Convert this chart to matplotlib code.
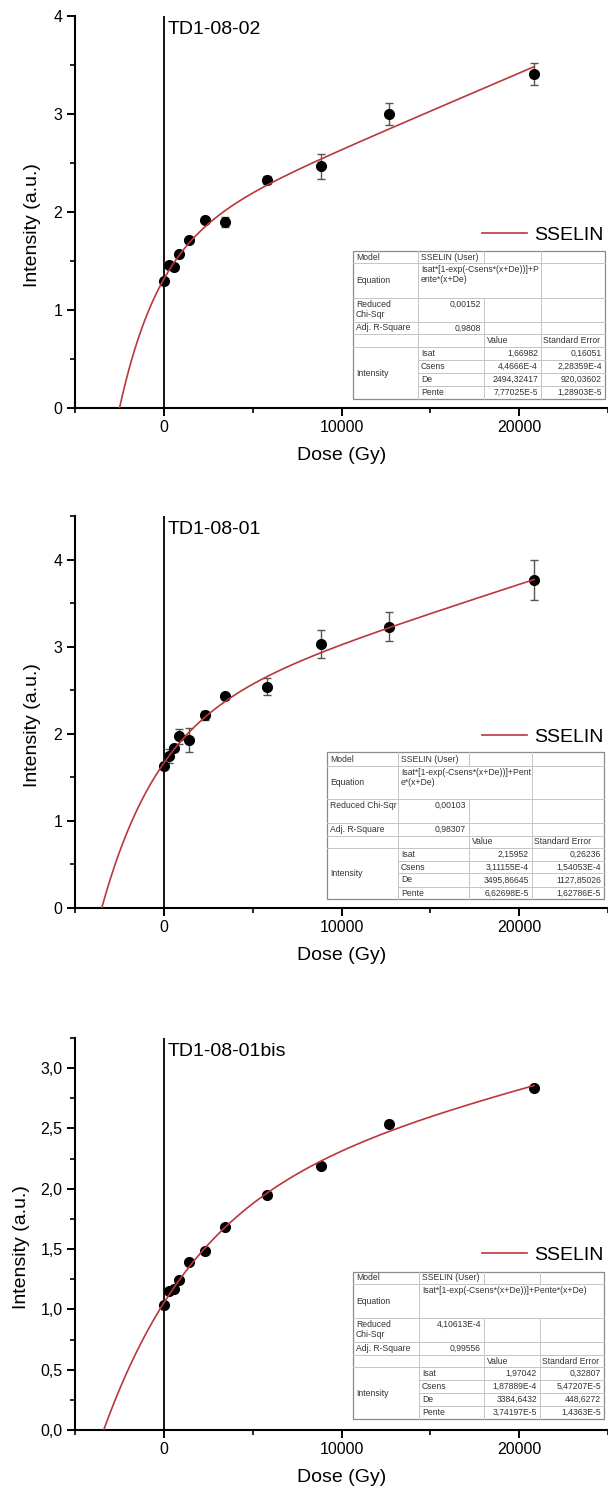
import numpy as np
import matplotlib.pyplot as plt
from matplotlib.ticker import MultipleLocator, FuncFormatter

plt.rcParams['font.family'] = ['Liberation Sans', 'DejaVu Sans']

W, H = 608, 1491

# doses (Gy), same irradiation steps for the three samples
dose = [0, 300, 560, 880, 1420, 2330, 3440, 5790, 8830, 12680, 20840]

# TD1-08-02
int_02 = [1.30, 1.455, 1.44, 1.57, 1.71, 1.915, 1.90, 2.33, 2.465, 3.00, 3.41]
err_02 = [0.02, 0.02, 0.02, 0.02, 0.02, 0.02, 0.05, 0.04, 0.13, 0.11, 0.11]
# TD1-08-01
int_01 = [1.635, 1.74, 1.835, 1.97, 1.93, 2.21, 2.43, 2.54, 3.035, 3.23, 3.765]
err_01 = [0.02, 0.08, 0.03, 0.09, 0.14, 0.05, 0.03, 0.10, 0.16, 0.17, 0.23]
# TD1-08-01bis (no visible error bars)
int_01b = [1.035, 1.15, 1.17, 1.24, 1.39, 1.485, 1.68, 1.946, 2.19, 2.535, 2.835]

# fit tables (Origin output, comma decimals)
param_names = ['Isat', 'Csens', 'De', 'Pente']
val_02 = ['1,66982', '4,4666E-4', '2494,32417', '7,77025E-5']
se_02 = ['0,16051', '2,28359E-4', '920,03602', '1,28903E-5']
val_01 = ['2,15952', '3,11155E-4', '3495,86645', '6,62698E-5']
se_01 = ['0,26236', '1,54053E-4', '1127,85026', '1,62786E-5']
val_01b = ['1,97042', '1,87889E-4', '3384,6432', '3,74197E-5']
se_01b = ['0,32807', '5,47207E-5', '448,6272', '1,4363E-5']
chi_vals = ['0,00152', '0,00103', '4,10613E-4']
adj_r2 = ['0,9808', '0,98307', '0,99556']
eq_texts = ['Isat*[1-exp(-Csens*(x+De))]+P\nente*(x+De)',
            'Isat*[1-exp(-Csens*(x+De))]+Pent\ne*(x+De)',
            'Isat*[1-exp(-Csens*(x+De))]+Pente*(x+De)']
chi_labels = ['Reduced\nChi-Sqr', 'Reduced Chi-Sqr', 'Reduced\nChi-Sqr']
names = ['TD1-08-02', 'TD1-08-01', 'TD1-08-01bis']

RED = '#b8383b'
TXT = '#333333'


def to_float(s):
    return float(s.replace(',', '.'))


def sselin(x, isat, csens, de, pente):
    return isat * (1 - np.exp(-csens * (x + de))) + pente * (x + de)


def draw_table(ov, c, r, eq_text, eq_end, chi_label, chi, adj, vals, ses):
    ov.add_patch(plt.Rectangle((c[0], r[0]), c[-1] - c[0], r[-1] - r[0],
                               facecolor='white', edgecolor='#8a8a8a', lw=0.9, zorder=1))
    inner = dict(color='#c4c4c4', lw=0.7, zorder=2)
    for k in range(1, 6):
        ov.plot([c[0], c[-1]], [r[k], r[k]], **inner)
    for k in range(6, 9):
        ov.plot([c[1], c[-1]], [r[k], r[k]], **inner)
    ov.plot([c[1], c[1]], [r[0], r[-1]], **inner)
    for j in (2, 3):
        if j < eq_end:
            ov.plot([c[j], c[j]], [r[0], r[1]], **inner)
            ov.plot([c[j], c[j]], [r[2], r[-1]], **inner)
        else:
            ov.plot([c[j], c[j]], [r[0], r[-1]], **inner)

    kw = dict(fontsize=6.2, color=TXT, zorder=3)
    mid = lambda a, b: (a + b) / 2
    ov.text(c[0] + 3, mid(r[0], r[1]), 'Model', va='center', **kw)
    ov.text(c[1] + 3, mid(r[0], r[1]), 'SSELIN (User)', va='center', **kw)
    ov.text(c[0] + 3, mid(r[1], r[2]), 'Equation', va='center', **kw)
    ov.text(c[1] + 3, r[1] + 2, eq_text, va='top', linespacing=1.1, **kw)
    ov.text(c[0] + 3, r[2] + 2, chi_label, va='top', linespacing=1.1, **kw)
    ov.text(c[2] - 3, r[2] + 2, chi, va='top', ha='right', **kw)
    ov.text(c[0] + 3, mid(r[3], r[4]), 'Adj. R-Square', va='center', **kw)
    ov.text(c[2] - 3, mid(r[3], r[4]), adj, va='center', ha='right', **kw)
    ov.text(c[2] + 3, mid(r[4], r[5]), 'Value', va='center', **kw)
    ov.text(c[3] + 2, mid(r[4], r[5]), 'Standard Error', va='center', **kw)
    ov.text(c[0] + 3, mid(r[5], r[9]), 'Intensity', va='center', **kw)
    for i, (pn, v, s) in enumerate(zip(param_names, vals, ses)):
        y = mid(r[5 + i], r[6 + i])
        ov.text(c[1] + 3, y, pn, va='center', **kw)
        ov.text(c[3] - 3, y, v, va='center', ha='right', **kw)
        ov.text(c[4] - 3, y, s, va='center', ha='right', **kw)


panels = [
    dict(name=names[0], y=int_02, err=err_02, vals=val_02, ses=se_02,
         box=(75, 16, 608, 408), ylim=4, major=1, minor=0.5, comma=False, ylab_x=-0.079, leg_y=0.441,
         cols=[353, 418, 484, 541, 605], rows=[251, 263, 298, 322, 334, 347, 360, 373, 386, 399], eq_end=3),
    dict(name=names[1], y=int_01, err=err_01, vals=val_01, ses=se_01,
         box=(75, 516, 608, 908), ylim=4.5, major=1, minor=0.5, comma=False, ylab_x=-0.079, leg_y=0.436,
         cols=[327, 398, 469, 532, 604], rows=[752, 766, 799, 823, 836, 848, 861, 873, 887, 899], eq_end=3),
    dict(name=names[2], y=int_01b, err=None, vals=val_01b, ses=se_01b,
         box=(75, 1038, 608, 1430), ylim=3.25, major=0.5, minor=0.25, comma=True, ylab_x=-0.1, leg_y=0.446,
         cols=[353, 419, 484, 540, 604], rows=[1272, 1284, 1318, 1342, 1355, 1367, 1380, 1393, 1406, 1419], eq_end=4),
]

fig = plt.figure(figsize=(W / 100, H / 100), dpi=100)
ov = fig.add_axes([0, 0, 1, 1], zorder=10)
ov.set_xlim(0, W)
ov.set_ylim(H, 0)
ov.axis('off')

for k, p in enumerate(panels):
    l, t, rgt, b = p['box']
    ax = fig.add_axes([l / W, 1 - b / H, (rgt - l) / W, (b - t) / H])

    params = [to_float(v) for v in p['vals']]
    xs = np.linspace(-params[2], dose[-1], 400)
    line, = ax.plot(xs, sselin(xs, *params), color=RED, lw=1.2, zorder=4)
    if p['err'] is not None:
        ax.errorbar(dose, p['y'], yerr=p['err'], fmt='none', ecolor='#555555',
                    elinewidth=1, capsize=2.8, capthick=1, zorder=2)
    ax.plot(dose, p['y'], 'o', color='black', ms=7, zorder=3)
    ax.axvline(0, color='black', lw=1.3, zorder=1)

    ax.set_xlim(-5000, 25000)
    ax.set_ylim(0, p['ylim'])
    ax.xaxis.set_major_locator(MultipleLocator(10000))
    ax.xaxis.set_minor_locator(MultipleLocator(5000))
    ax.yaxis.set_major_locator(MultipleLocator(p['major']))
    ax.yaxis.set_minor_locator(MultipleLocator(p['minor']))
    if p['comma']:
        ax.yaxis.set_major_formatter(FuncFormatter(lambda v, _: f'{v:.1f}'.replace('.', ',')))
    else:
        ax.yaxis.set_major_formatter(FuncFormatter(lambda v, _: f'{v:g}'))
    ax.xaxis.set_major_formatter(FuncFormatter(lambda v, _: f'{v:g}'))

    for s in ('top', 'right'):
        ax.spines[s].set_visible(False)
    for s in ('left', 'bottom'):
        ax.spines[s].set_linewidth(1.5)
    ax.tick_params(which='major', direction='out', length=5.5, width=1.4, labelsize=11.5, pad=3.5)
    ax.tick_params(which='minor', direction='out', length=3.5, width=1.2)
    ax.set_facecolor('none')

    ax.set_xlabel('Dose (Gy)', fontsize=14, labelpad=8)
    ax.set_ylabel('Intensity (a.u.)', fontsize=14, va='center')
    ax.yaxis.set_label_coords(p['ylab_x'], 0.467)

    ax.annotate(p['name'], xy=(0, 1), xycoords=('data', 'axes fraction'),
                xytext=(3, -9.5), textcoords='offset points', va='center', fontsize=14)

    ax.legend([line], ['SSELIN'], loc='center right', bbox_to_anchor=(1.0, p['leg_y']),
              frameon=False, fontsize=14, handlelength=2.3, handletextpad=0.35,
              borderaxespad=0.25, borderpad=0)

    draw_table(ov, p['cols'], p['rows'], eq_texts[k], p['eq_end'],
               chi_labels[k], chi_vals[k], adj_r2[k], p['vals'], p['ses'])

fig.savefig('out.png', dpi=100)
